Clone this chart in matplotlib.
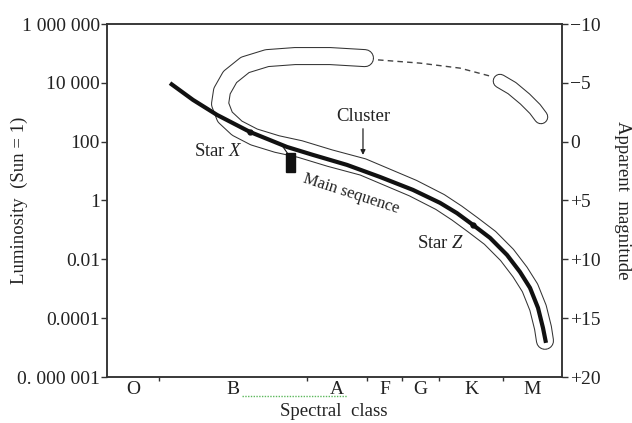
import matplotlib
matplotlib.use('Agg')
import matplotlib.pyplot as plt
import numpy as np
from matplotlib.patches import Rectangle
import matplotlib.transforms as mtransforms

plt.rcParams['font.family'] = ['Liberation Serif', 'DejaVu Serif']
plt.rcParams['mathtext.fontset'] = 'custom'
plt.rcParams['mathtext.rm'] = 'Liberation Serif'
plt.rcParams['mathtext.it'] = 'Liberation Serif:italic'

# spectral classes, x is an arbitrary hot -> cool scale 0..100
classes = ['O', 'B', 'A', 'F', 'G', 'K', 'M']
class_edges = [0, 11.43, 43.96, 57.14, 64.84, 72.97, 87.03, 100]

lum_ticks = [1e6, 1e4, 1e2, 1, 1e-2, 1e-4, 1e-6]
lum_labels = ['1 000 000', '10 000', '100', '1', '0.01', '0.0001', '0. 000 001']
mag_ticks = [-10, -5, 0, 5, 10, 15, 20]
mag_labels = ['\u221210', '\u22125', '0', '+5', '+10', '+15', '+20']

# main sequence (x, log10 L)
ms_x = [13.85, 18.90, 24.18, 31.43, 39.56, 45.27, 52.75, 60.00, 67.25, 73.19,
        76.92, 80.44, 84.18, 87.91, 90.77, 92.97, 94.73, 95.82, 96.48]
ms_logl = [3.99, 3.42, 2.91, 2.33, 1.82, 1.55, 1.21, 0.80, 0.36, -0.08,
           -0.43, -0.83, -1.27, -1.85, -2.43, -2.97, -3.65, -4.33, -4.84]

# cluster band, centre line
cl_x = [56.70, 49.01, 41.32, 35.16, 30.33, 27.03, 25.27, 24.84, 25.93, 28.57,
        32.31, 37.36, 42.42, 49.01, 56.26, 67.25, 73.19, 76.92, 80.44, 84.18,
        87.91, 90.77, 92.97, 94.73, 95.82, 96.26]
cl_logl = [4.84, 4.91, 4.91, 4.84, 4.61, 4.20, 3.72, 3.28, 2.84, 2.46,
           2.16, 1.92, 1.75, 1.44, 1.14, 0.42, -0.05, -0.43, -0.83, -1.27,
           -1.85, -2.43, -2.97, -3.65, -4.33, -4.77]

# red giant blob of the cluster
gi_x = [86.37, 89.01, 91.87, 94.07, 95.38]
gi_logl = [4.06, 3.82, 3.45, 3.11, 2.84]

# dashed link between turnoff and giants
ds_x = [59.56, 68.79, 77.58, 84.18]
ds_logl = [4.78, 4.67, 4.50, 4.23]

star_x = (31.43, 2.33)
star_z = (80.44, -0.83)

fig = plt.figure(figsize=(6.32, 4.23), dpi=100)
ax = fig.add_axes([107/632, 1-377/423, 455/632, 353/423])
ax.set_yscale('log')
ax.set_xlim(0, 100)
ax.set_ylim(1e-6, 1e6)

ink = '#222222'

def tube(xs, ls, w, z):
    ys = 10**np.array(ls)
    ax.plot(xs, ys, color='#333333', lw=w, solid_capstyle='round',
            solid_joinstyle='round', zorder=z)
    ax.plot(xs, ys, color='white', lw=w-1.5, solid_capstyle='round',
            solid_joinstyle='round', zorder=z+0.1)

tube(cl_x, cl_logl, 13.0, 2)
tube(gi_x, gi_logl, 10.5, 2)

ax.plot(ds_x, 10**np.array(ds_logl), color='#444444', lw=1.0,
        dashes=(4, 3), zorder=3)

ax.plot(ms_x, 10**np.array(ms_logl), color='#111111', lw=3.0,
        solid_capstyle='butt', solid_joinstyle='round', zorder=4)
ax.plot([star_x[0], star_z[0]], [10**star_x[1], 10**star_z[1]], 'o',
        color='#111111', ms=3.5, zorder=5)

# black marker bar on the main sequence
ax.add_patch(Rectangle((39.34, 10**0.97), 1.98, 10**1.61 - 10**0.97,
                       color='#111111', zorder=5))
ax.plot([38.7, 39.6], [10**1.82, 10**1.62], color='#111111', lw=0.8, zorder=5)

ax.text(24.4, 10**1.65, 'Star $X$', fontsize=13.5, color=ink,
        ha='center', va='center')
ax.text(73.4, 10**-1.45, 'Star $Z$', fontsize=13.5, color=ink,
        ha='center', va='center')
ax.text(53.6, 10**0.22, 'Main sequence', fontsize=12, color=ink,
        ha='center', va='center', rotation=-18)
ax.annotate('Cluster', xy=(56.26, 10**1.55), xytext=(56.26, 10**2.87),
            fontsize=13.5, color=ink, ha='center', va='center',
            arrowprops=dict(arrowstyle='-|>', color=ink, lw=0.9,
                            mutation_scale=7, shrinkA=1, shrinkB=0))

# spectral class axis
ax.set_xticks([(a + b) / 2 for a, b in zip(class_edges[:-1], class_edges[1:])])
ax.set_xticklabels(classes, fontsize=14, color=ink)
ax.set_xticks(class_edges[1:-1], minor=True)
ax.tick_params(axis='x', which='major', length=0, pad=3)
ax.tick_params(axis='x', which='minor', length=3, width=1, color='#333333',
               direction='out')

ax.set_yticks(lum_ticks)
ax.set_yticklabels(lum_labels, fontsize=14, color=ink)
ax.yaxis.set_minor_locator(matplotlib.ticker.NullLocator())
ax.tick_params(axis='y', which='major', length=4, width=1, color='#333333',
               pad=1)

ax2 = ax.twinx()
ax2.set_ylim(20, -10)
ax2.set_yticks(mag_ticks)
ax2.set_yticklabels(mag_labels, fontsize=14, color=ink)
ax2.tick_params(axis='y', length=4, width=1, color='#333333', pad=2)

for a in (ax, ax2):
    for s in a.spines.values():
        s.set_color('#333333')
        s.set_linewidth(1.1)

# spell-check underline between B and A
trans = mtransforms.blended_transform_factory(ax.transData, ax.transAxes)
ax.plot([29.7, 52.7], [-0.054, -0.054], color='#5cb85c', lw=1.0,
        dashes=(1, 1), transform=trans, clip_on=False)

fig.text(19/632, 1-200/423, 'Luminosity  (Sun = 1)', rotation=90,
         fontsize=13.5, color=ink, ha='center', va='center')
fig.text(623/632, 1-200/423, 'Apparent  magnitude', rotation=270,
         fontsize=13.5, color=ink, ha='center', va='center')
fig.text(334/632, 1-411/423, 'Spectral  class', fontsize=13.5, color=ink,
         ha='center', va='center')

fig.savefig('out.png', dpi=100)
